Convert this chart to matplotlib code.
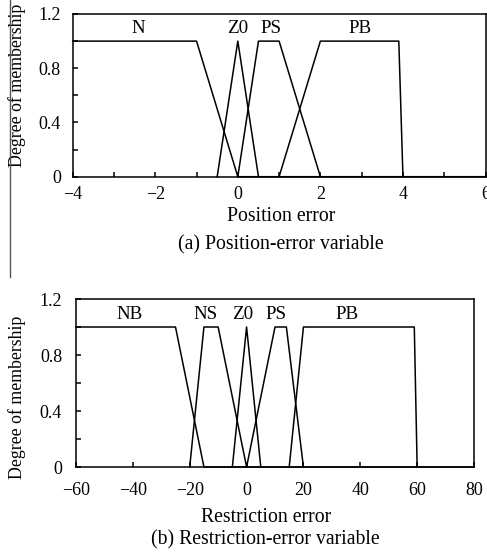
import matplotlib
matplotlib.use("Agg")
import matplotlib.pyplot as plt
from matplotlib.lines import Line2D
from matplotlib.ticker import MultipleLocator

plt.rcParams['font.family'] = ['Liberation Serif', 'DejaVu Serif']
plt.rcParams['mathtext.fontset'] = 'stix'

# ---- data: (a) position-error membership functions ----
pos_names = ["N", "Z0", "PS", "PB"]
pos_N_x = [-4, -1, 0, 6]
pos_N_y = [1, 1, 0, 0]
pos_Z0_x = [-0.5, 0, 0.5]
pos_Z0_y = [0, 1, 0]
pos_PS_x = [0, 0.5, 1, 2]
pos_PS_y = [0, 1, 1, 0]
pos_PB_x = [1, 2, 3.9, 4]
pos_PB_y = [0, 1, 1, 0]
pos_label_x = [-2.4, 0, 0.8, 2.95]
pos_label_y = [1.09, 1.09, 1.09, 1.09]

# ---- data: (b) restriction-error membership functions ----
res_names = ["NB", "NS", "Z0", "PS", "PB"]
res_NB_x = [-60, -25, -15, 80]
res_NB_y = [1, 1, 0, 0]
res_NS_x = [-20, -15, -10, 0]
res_NS_y = [0, 1, 1, 0]
res_Z0_x = [-5, 0, 5]
res_Z0_y = [0, 1, 0]
res_PS_x = [0, 10, 14, 20]
res_PS_y = [0, 1, 1, 0]
res_PB_x = [15, 20, 59, 60]
res_PB_y = [0, 1, 1, 0]
res_label_x = [-41, -14.5, -1.5, 10.5, 35.5]
res_label_y = [1.09, 1.09, 1.09, 1.09, 1.09]

W, H = 487, 558
fig = plt.figure(figsize=(W / 100, H / 100), dpi=100)

LW = 1.1
TICK_FS = 13
LAB_FS = 14.2


def style_axes(ax, xpad, ypad):
    for s in ax.spines.values():
        s.set_linewidth(LW)
    ax.tick_params(axis='both', which='both', direction='in', top=False,
                   right=False, labelsize=TICK_FS, width=LW, length=3.5)
    ax.tick_params(axis='y', which='both', pad=ypad)
    ax.tick_params(axis='x', which='both', pad=xpad)
    ax.set_ylim(0, 1.2)
    ax.set_yticks([0, 0.4, 0.8, 1.2])
    ax.set_yticklabels(["0", "0.4", "0.8", "1.2"])
    ax.yaxis.set_minor_locator(MultipleLocator(0.2))


# ---- top axes ----
T_L, T_R, T_T, T_B = 72.7, 485.5, 14, 176.7
ax1 = fig.add_axes([T_L / W, 1 - T_B / H, (T_R - T_L) / W, (T_B - T_T) / H])
for xs, ys in [(pos_N_x, pos_N_y), (pos_Z0_x, pos_Z0_y), (pos_PS_x, pos_PS_y), (pos_PB_x, pos_PB_y)]:
    ax1.plot(xs, ys, color='black', lw=LW, clip_on=False)
ax1.set_xlim(-4, 6)
ax1.set_xticks([-4, -2, 0, 2, 4, 6])
ax1.xaxis.set_minor_locator(MultipleLocator(1))
style_axes(ax1, xpad=7, ypad=8.5)
for name, x, y in zip(pos_names, pos_label_x, pos_label_y):
    ax1.text(x, y, name, ha='center', va='center', fontsize=LAB_FS - 0.5)
ax1.set_ylabel("Degree of membership", fontsize=12.8)
ax1.yaxis.set_label_coords((26 - T_L) / (T_R - T_L), (T_B - 85) / (T_B - T_T))

fig.text(280.8 / W, 1 - 216.7 / H, "Position error", ha='center', va='center', fontsize=LAB_FS)
fig.text(280.8 / W, 1 - 245 / H, "(a) Position-error variable", ha='center', va='center', fontsize=LAB_FS)

# ---- bottom axes ----
B_L, B_R, B_T, B_B = 76, 474, 299, 467
ax2 = fig.add_axes([B_L / W, 1 - B_B / H, (B_R - B_L) / W, (B_B - B_T) / H])
for xs, ys in [(res_NB_x, res_NB_y), (res_NS_x, res_NS_y), (res_Z0_x, res_Z0_y), (res_PS_x, res_PS_y), (res_PB_x, res_PB_y)]:
    ax2.plot(xs, ys, color='black', lw=LW, clip_on=False)
ax2.set_xlim(-60, 80)
ax2.set_xticks([-60, -40, -20, 0, 20, 40, 60, 80])
style_axes(ax2, xpad=11, ypad=10)
for name, x, y in zip(res_names, res_label_x, res_label_y):
    ax2.text(x, y, name, ha='center', va='center', fontsize=LAB_FS - 0.5)
ax2.set_ylabel("Degree of membership", fontsize=12.8)
ax2.yaxis.set_label_coords((26 - B_L) / (B_R - B_L), (B_B - 397) / (B_B - B_T))

fig.text(265.8 / W, 1 - 518 / H, "Restriction error", ha='center', va='center', fontsize=LAB_FS)
fig.text(265.8 / W, 1 - 540 / H, "(b) Restriction-error variable", ha='center', va='center', fontsize=LAB_FS)

# scanned page border on the left
fig.add_artist(Line2D([10 / W, 10 / W], [1, 1 - 277 / H], color='#555555', lw=1.0))

fig.savefig("out.png", dpi=100)
